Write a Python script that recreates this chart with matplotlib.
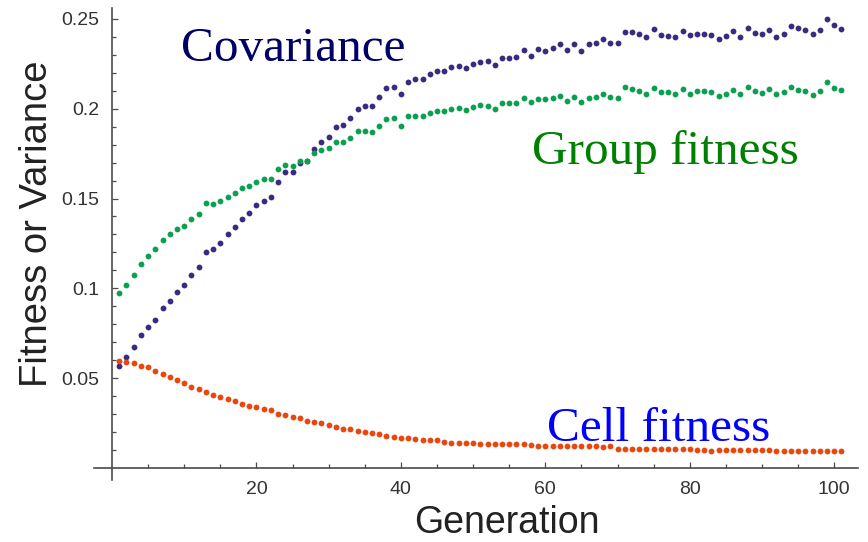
import matplotlib
matplotlib.use("Agg")
import matplotlib.pyplot as plt
import numpy as np

generation = list(range(1, 102))

covariance = [
    0.0567, 0.0618, 0.0672, 0.0741, 0.0788, 0.0826, 0.0889, 0.0930, 0.0978, 0.1019,
    0.1073, 0.1121, 0.1202, 0.1221, 0.1251, 0.1304, 0.1340, 0.1384, 0.1421, 0.1462,
    0.1486, 0.1510, 0.1592, 0.1646, 0.1647, 0.1699, 0.1709, 0.1775, 0.1813, 0.1844,
    0.1899, 0.1911, 0.1946, 0.1998, 0.2016, 0.2013, 0.2066, 0.2116, 0.2118, 0.2080,
    0.2150, 0.2165, 0.2163, 0.2191, 0.2207, 0.2211, 0.2233, 0.2239, 0.2224, 0.2246,
    0.2261, 0.2265, 0.2241, 0.2280, 0.2281, 0.2285, 0.2326, 0.2293, 0.2333, 0.2320,
    0.2339, 0.2358, 0.2326, 0.2358, 0.2322, 0.2358, 0.2367, 0.2385, 0.2367, 0.2363,
    0.2428, 0.2424, 0.2415, 0.2400, 0.2443, 0.2409, 0.2405, 0.2400, 0.2430, 0.2408,
    0.2417, 0.2415, 0.2409, 0.2385, 0.2405, 0.2430, 0.2400, 0.2447, 0.2420, 0.2417,
    0.2437, 0.2400, 0.2415, 0.2459, 0.2447, 0.2437, 0.2417, 0.2435, 0.2498, 0.2463,
    0.2444,
]

group_fitness = [
    0.0973, 0.1020, 0.1076, 0.1137, 0.1178, 0.1217, 0.1271, 0.1301, 0.1332, 0.1345,
    0.1384, 0.1415, 0.1475, 0.1468, 0.1486, 0.1508, 0.1531, 0.1557, 0.1568, 0.1592,
    0.1608, 0.1610, 0.1664, 0.1686, 0.1679, 0.1709, 0.1709, 0.1751, 0.1770, 0.1783,
    0.1813, 0.1813, 0.1838, 0.1875, 0.1875, 0.1870, 0.1905, 0.1942, 0.1946, 0.1905,
    0.1959, 0.1961, 0.1957, 0.1977, 0.1987, 0.1987, 0.1998, 0.2002, 0.1992, 0.2007,
    0.2018, 0.2016, 0.1998, 0.2029, 0.2029, 0.2029, 0.2061, 0.2035, 0.2055, 0.2055,
    0.2057, 0.2070, 0.2041, 0.2063, 0.2037, 0.2057, 0.2063, 0.2081, 0.2066, 0.2061,
    0.2118, 0.2109, 0.2100, 0.2081, 0.2116, 0.2094, 0.2091, 0.2080, 0.2111, 0.2083,
    0.2098, 0.2096, 0.2091, 0.2070, 0.2080, 0.2103, 0.2081, 0.2118, 0.2098, 0.2089,
    0.2109, 0.2080, 0.2091, 0.2118, 0.2103, 0.2098, 0.2077, 0.2100, 0.2146, 0.2116,
    0.2102,
]

cell_fitness = [
    0.0598, 0.0589, 0.0583, 0.0570, 0.0563, 0.0541, 0.0522, 0.0506, 0.0489, 0.0476,
    0.0453, 0.0440, 0.0424, 0.0407, 0.0394, 0.0383, 0.0374, 0.0359, 0.0344, 0.0342,
    0.0331, 0.0322, 0.0303, 0.0296, 0.0285, 0.0278, 0.0264, 0.0257, 0.0250, 0.0239,
    0.0231, 0.0218, 0.0216, 0.0209, 0.0201, 0.0194, 0.0189, 0.0179, 0.0175, 0.0168,
    0.0168, 0.0162, 0.0159, 0.0155, 0.0155, 0.0147, 0.0140, 0.0140, 0.0140, 0.0140,
    0.0136, 0.0136, 0.0134, 0.0133, 0.0133, 0.0132, 0.0132, 0.0126, 0.0124, 0.0123,
    0.0123, 0.0122, 0.0122, 0.0122, 0.0121, 0.0122, 0.0121, 0.0120, 0.0121, 0.0109,
    0.0108, 0.0108, 0.0108, 0.0107, 0.0108, 0.0107, 0.0107, 0.0108, 0.0109, 0.0108,
    0.0099, 0.0099, 0.0098, 0.0099, 0.0099, 0.0100, 0.0102, 0.0101, 0.0099, 0.0102,
    0.0103, 0.0097, 0.0097, 0.0097, 0.0097, 0.0098, 0.0097, 0.0096, 0.0095, 0.0095,
    0.0095,
]

x_major = [20, 40, 60, 80, 100]
y_major = [0.05, 0.1, 0.15, 0.2, 0.25]
y_major_labels = ["0.05", "0.1", "0.15", "0.2", "0.25"]

W, H = 868, 542
fig = plt.figure(figsize=(W / 100, H / 100), dpi=100)
ax = fig.add_axes([94 / W, 1 - 480 / H, (858 - 94) / W, (480 - 8) / H])
ax.set_xlim(-2.5, 103.3)
ax.set_ylim(-0.0066, 0.2560)

ax.plot(generation, covariance, "o", color="#3b2a7f", ms=4.2, mew=0, zorder=3)
ax.plot(generation, group_fitness, "o", color="#0aa04f", ms=4.2, mew=0, zorder=3)
ax.plot(generation, cell_fitness, "o", color="#e8470e", ms=4.2, mew=0, zorder=3)

for s in ["top", "right"]:
    ax.spines[s].set_visible(False)
ax.spines["left"].set_position(("data", 0))
ax.spines["bottom"].set_position(("data", 0))
for s in ["left", "bottom"]:
    ax.spines[s].set_color("#4a4a4a")
    ax.spines[s].set_linewidth(1.2)

ax.set_xticks(x_major)
ax.set_xticklabels([str(v) for v in x_major])
ax.set_xticks([v for v in range(5, 101, 5) if v not in x_major], minor=True)
ax.set_yticks(y_major)
ax.set_yticklabels(y_major_labels)
ax.set_yticks([round(0.01 * k, 2) for k in range(1, 26) if k % 5 != 0], minor=True)

ax.tick_params(which="both", direction="in", color="#4a4a4a", width=0.9,
               labelsize=14, labelcolor="#333333", pad=9)
ax.tick_params(which="major", length=4.5)
ax.tick_params(which="minor", length=3)
for lab in ax.get_xticklabels() + ax.get_yticklabels():
    lab.set_fontfamily("Liberation Sans")

fig.text(47 / W, 1 - 223.5 / H, "Fitness or Variance", rotation=90,
         rotation_mode="anchor", ha="center", va="baseline",
         fontsize=27.5, family="Liberation Sans", color="#222222")
fig.text(507 / W, 1 - 533 / H, "Generation", ha="center", va="baseline",
         fontsize=27, family="Liberation Sans", color="#222222")

fig.text(181 / W, 1 - 61 / H, "Covariance", ha="left", va="baseline",
         fontsize=35.5, family="Liberation Serif", color="#000066")
fig.text(532 / W, 1 - 164 / H, "Group fitness", ha="left", va="baseline",
         fontsize=35.5, family="Liberation Serif", color="#008000")
fig.text(547 / W, 1 - 441 / H, "Cell fitness", ha="left", va="baseline",
         fontsize=35.5, family="Liberation Serif", color="#0000ff")

fig.savefig("out.png", dpi=100)
